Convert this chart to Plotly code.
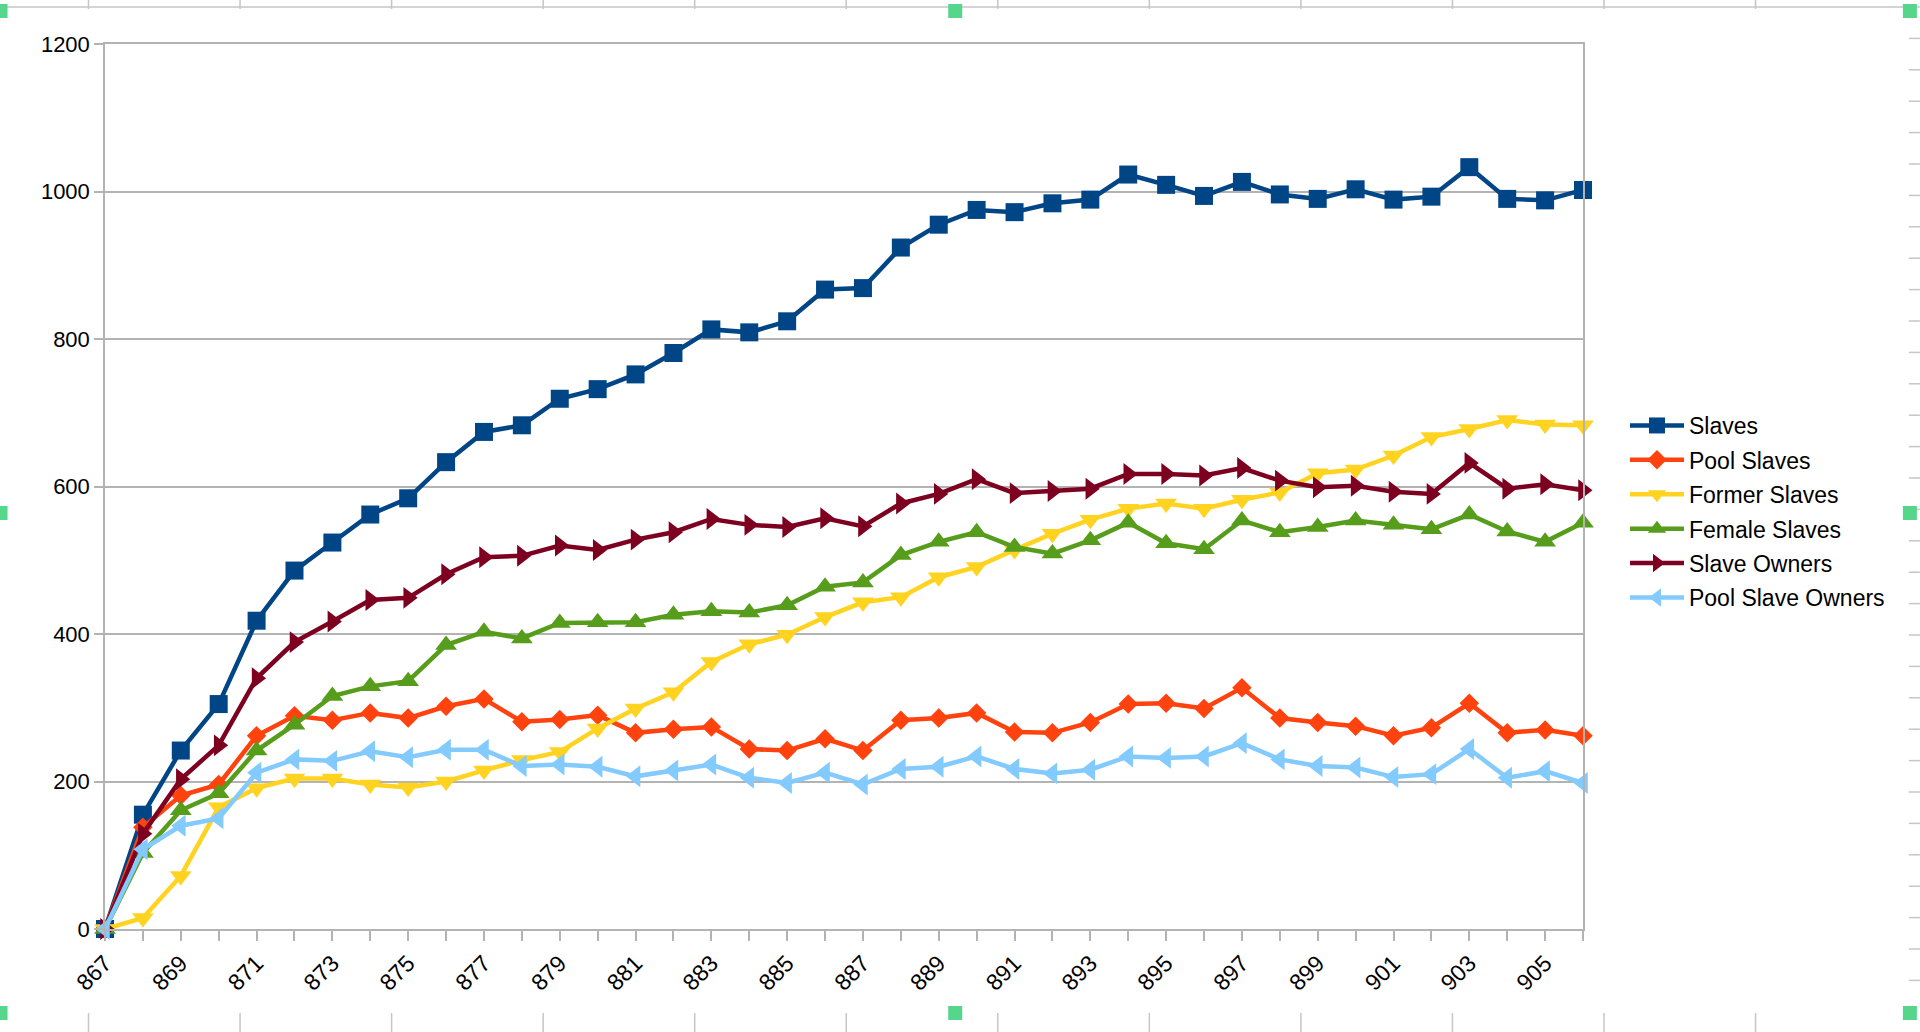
import plotly.graph_objects as go

years = [867, 868, 869, 870, 871, 872, 873, 874, 875, 876,
         877, 878, 879, 880, 881, 882, 883, 884, 885, 886,
         887, 888, 889, 890, 891, 892, 893, 894, 895, 896,
         897, 898, 899, 900, 901, 902, 903, 904, 905, 906]
tick_labels = [str(y) if (y - 867) % 2 == 0 else "" for y in years]

slaves = [0, 155, 242, 305, 418, 486, 524, 562, 584, 633,
          674, 683, 719, 732, 752, 781, 813, 809, 824, 867,
          869, 924, 955, 975, 972, 984, 989, 1023, 1009, 994,
          1013, 996, 990, 1003, 989, 993, 1033, 990, 988, 1002]
pool_slaves = [0, 138, 181, 196, 262, 289, 283, 293, 286, 302,
               312, 281, 284, 290, 266, 271, 274, 244, 242, 258,
               242, 283, 286, 293, 267, 266, 280, 305, 306, 299,
               327, 286, 280, 275, 262, 273, 306, 266, 270, 262]
former_slaves = [0, 15, 72, 165, 191, 204, 204, 196, 192, 200,
                 215, 229, 240, 272, 299, 321, 362, 386, 399, 423,
                 443, 450, 477, 491, 514, 536, 555, 570, 577, 570,
                 582, 592, 618, 623, 642, 667, 678, 690, 684, 683]
female_slaves = [0, 103, 161, 184, 242, 277, 316, 329, 336, 385,
                 403, 394, 415, 416, 416, 426, 431, 429, 439, 464,
                 470, 507, 525, 538, 518, 509, 527, 551, 523, 515,
                 554, 538, 545, 554, 548, 542, 562, 539, 525, 551]
slave_owners = [0, 129, 203, 249, 340, 389, 417, 446, 449, 481,
                504, 506, 520, 514, 528, 538, 556, 548, 545, 557,
                546, 577, 590, 610, 591, 594, 597, 617, 617, 615,
                625, 608, 599, 601, 593, 590, 632, 597, 603, 595]
pool_slave_owners = [0, 108, 140, 150, 212, 230, 228, 241, 233, 243,
                     243, 221, 223, 220, 207, 215, 223, 205, 198, 212,
                     196, 217, 220, 234, 217, 211, 216, 234, 232, 234,
                     252, 230, 221, 219, 206, 210, 244, 205, 214, 198]

series = [
    ("Slaves", slaves, "#004586", "square", 18),
    ("Pool Slaves", pool_slaves, "#ff420e", "diamond", 15),
    ("Former Slaves", former_slaves, "#ffd320", "triangle-down", 19),
    ("Female Slaves", female_slaves, "#579d1c", "triangle-up", 19),
    ("Slave Owners", slave_owners, "#7e0021", "triangle-right", 19),
    ("Pool Slave Owners", pool_slave_owners, "#83caff", "triangle-left", 19),
]

fig = go.Figure()
for i, (name, vals, color, sym, size) in enumerate(series):
    fig.add_trace(go.Scatter(
        x=years, y=vals, name=name, mode="lines+markers",
        line=dict(color=color, width=4.5),
        marker=dict(symbol=sym, size=size, color=color, line=dict(width=0)),
        cliponaxis=False, legendgroup=name,
    ))

# geometry of the plot area in page pixels
L, R, T, B = 104.5, 1583, 44, 929
W, H = 1920, 1032


def px(x):
    return (x - L) / (R - L)


def py(y):
    return (B - y) / (B - T)


grid_col = "#c6c6c6"
shapes = []
# spreadsheet cell grid visible around the chart frame
shapes.append(dict(type="line", xref="paper", yref="paper",
                   x0=px(0), x1=px(W), y0=py(7), y1=py(7),
                   line=dict(color=grid_col, width=1.5)))
col_x = [88 + 151.6 * k for k in range(12)]
for cx in col_x:
    shapes.append(dict(type="line", xref="paper", yref="paper",
                       x0=px(cx), x1=px(cx), y0=py(0), y1=py(9),
                       line=dict(color=grid_col, width=1.5)))
    shapes.append(dict(type="line", xref="paper", yref="paper",
                       x0=px(cx), x1=px(cx), y0=py(1013), y1=py(W),
                       line=dict(color=grid_col, width=1.5)))
for k in range(1, 32):
    ry = 7 + 31.4 * k
    shapes.append(dict(type="line", xref="paper", yref="paper",
                       x0=px(1909), x1=px(W), y0=py(ry), y1=py(ry),
                       line=dict(color=grid_col, width=1.5)))
# selection handles
for hx, hy in [(0, 11), (955, 11), (1910, 11), (0, 513), (1910, 513),
               (0, 1013), (955, 1013), (1910, 1013)]:
    shapes.append(dict(type="rect", xref="paper", yref="paper",
                       x0=px(hx - 7), x1=px(hx + 7), y0=py(hy - 7), y1=py(hy + 7),
                       fillcolor="#55d68b", line=dict(width=0)))

fig.update_layout(
    width=W, height=H,
    margin=dict(l=L, r=W - R, t=T, b=H - B, autoexpand=False),
    paper_bgcolor="white", plot_bgcolor="white",
    font=dict(family="Liberation Sans, Arial, sans-serif", size=22, color="black"),
    showlegend=True,
    legend=dict(x=px(1625), y=py(404), xanchor="left", yanchor="top",
                font=dict(size=23), itemwidth=54, tracegroupgap=1.5,
                traceorder="grouped", bgcolor="rgba(0,0,0,0)"),
    xaxis=dict(range=[867, 906], tickmode="array", tickvals=years,
               ticktext=tick_labels, tickangle=-45, ticks="outside",
               ticklen=10, tickcolor="#b3b3b3", tickwidth=1.5,
               showgrid=False, showline=True, linecolor="#b3b3b3",
               linewidth=1.5, mirror=True, zeroline=False,
               tickfont=dict(size=23)),
    yaxis=dict(range=[0, 1200], dtick=200, ticks="outside", ticklen=9,
               tickcolor="#b3b3b3", tickwidth=1.5, showgrid=True,
               gridcolor="#b3b3b3", gridwidth=1.5, showline=True,
               linecolor="#b3b3b3", linewidth=1.5, mirror=True,
               zeroline=False, tickfont=dict(size=22)),
    shapes=shapes,
)

fig.write_html("out.html")
